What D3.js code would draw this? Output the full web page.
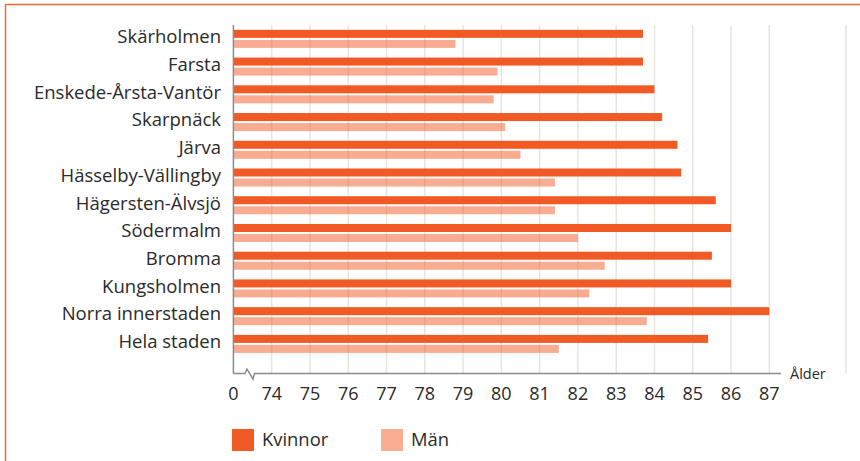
<!DOCTYPE html>
<html>
<head>
<meta charset="utf-8">
<script src="https://cdn.jsdelivr.net/npm/d3@7"></script>
<style>
body { margin: 0; background: #fff; }
svg text { font-family: "Open Sans", sans-serif; fill: #2a2a2a; }
</style>
</head>
<body>
<div id="chart"></div>
<script>
var categories = ["Skärholmen", "Farsta", "Enskede-Årsta-Vantör", "Skarpnäck", "Järva",
  "Hässelby-Vällingby", "Hägersten-Älvsjö", "Södermalm", "Bromma", "Kungsholmen",
  "Norra innerstaden", "Hela staden"];
var kvinnor = [83.7, 83.7, 84.0, 84.2, 84.6, 84.7, 85.6, 86.0, 85.5, 86.0, 87.0, 85.4];
var man = [78.8, 79.9, 79.8, 80.1, 80.5, 81.4, 81.4, 82.0, 82.7, 82.3, 83.8, 81.5];
var series = ["Kvinnor", "Män"];
var tickValues = [73, 74, 75, 76, 77, 78, 79, 80, 81, 82, 83, 84, 85, 86, 87];
var tickLabels = ["0", "74", "75", "76", "77", "78", "79", "80", "81", "82", "83", "84", "85", "86", "87"];
var gridValues = [74, 75, 76, 77, 78, 79, 80, 81, 82, 83, 84, 85, 86, 87, 89];

var width = 860, height = 461;
var colors = ["#f15a24", "#f15a24"];
var opac = [1, 0.5];

var svg = d3.select("#chart").append("svg")
  .attr("width", width)
  .attr("height", height);

// frame
svg.append("path")
  .attr("d", "M5.5,461 V4.5 H860")
  .attr("fill", "none")
  .attr("stroke", "#f26a3a")
  .attr("stroke-width", 1.5);

var x = d3.scaleLinear().domain([73, 87]).range([233.4, 769.3]);
var y = d3.scaleBand().domain(categories).range([25, 25 + 27.73 * 12])
  .paddingInner(0.35).paddingOuter(0.175);
var ySub = d3.scaleBand().domain(series).range([0, y.bandwidth()]).paddingInner(0.2);

var yTop = 25, yBase = 373.5;

// grid
svg.append("g").selectAll("line")
  .data(gridValues)
  .enter().append("line")
  .attr("x1", function(d) { return x(d); })
  .attr("x2", function(d) { return x(d); })
  .attr("y1", yTop)
  .attr("y2", yBase)
  .attr("stroke", "#e8e5df")
  .attr("stroke-width", 1.5);

// bars
var rows = categories.map(function(c, i) { return { cat: c, vals: [kvinnor[i], man[i]] }; });
var g = svg.append("g").selectAll("g")
  .data(rows)
  .enter().append("g")
  .attr("transform", function(d) { return "translate(0," + y(d.cat) + ")"; });

g.selectAll("rect")
  .data(function(d) { return d.vals; })
  .enter().append("rect")
  .attr("x", x(73))
  .attr("y", function(d, i) { return ySub(series[i]); })
  .attr("width", function(d) { return x(d) - x(73); })
  .attr("height", ySub.bandwidth())
  .attr("fill", function(d, i) { return colors[i]; })
  .attr("fill-opacity", function(d, i) { return opac[i]; });

// category labels
svg.append("g").selectAll("text")
  .data(categories)
  .enter().append("text")
  .attr("x", 221)
  .attr("y", function(d) { return y(d) + y.bandwidth() / 2; })
  .attr("dy", "0.23em")
  .attr("text-anchor", "end")
  .style("font-size", "18.5px")
  .text(function(d) { return d; });

// axes lines
svg.append("line")
  .attr("x1", 233.4).attr("x2", 233.4)
  .attr("y1", yTop).attr("y2", yBase)
  .attr("stroke", "#8c8c8c").attr("stroke-width", 1.5);

svg.append("path")
  .attr("d", "M233.4," + yBase + " H245 L247,369 L253,379 L254.5," + yBase + " H781")
  .attr("fill", "none")
  .attr("stroke", "#8c8c8c")
  .attr("stroke-width", 1.5);

// tick labels
svg.append("g").selectAll("text")
  .data(tickValues)
  .enter().append("text")
  .attr("x", function(d) { return x(d); })
  .attr("y", 394)
  .attr("dy", "0.35em")
  .attr("text-anchor", "middle")
  .style("font-size", "18px")
  .text(function(d, i) { return tickLabels[i]; });

svg.append("text")
  .attr("x", 790)
  .attr("y", 374)
  .attr("dy", "0.35em")
  .style("font-size", "14.5px")
  .text("Ålder");

// legend
var legend = svg.append("g").selectAll("g")
  .data(series)
  .enter().append("g")
  .attr("transform", function(d, i) { return "translate(" + (232 + i * 149) + ",429)"; });

legend.append("rect")
  .attr("width", 22)
  .attr("height", 22)
  .attr("fill", function(d, i) { return colors[i]; })
  .attr("fill-opacity", function(d, i) { return opac[i]; });

legend.append("text")
  .attr("x", 30)
  .attr("y", 11)
  .attr("dy", "0.35em")
  .style("font-size", "18.4px")
  .text(function(d) { return d; });
</script>
</body>
</html>
